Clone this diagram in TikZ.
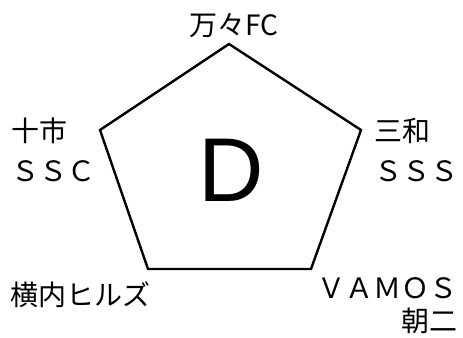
\documentclass[tikz,border=0pt]{standalone}
\usepackage{fontspec}
\setmainfont{Liberation Sans}
\newfontfamily\jpfont{Noto Sans CJK JP}
\usetikzlibrary{positioning}

\begin{document}
\begin{tikzpicture}[
  x=0.75pt,
  y=-0.75pt,
  team/.style={
    font=\jpfont\fontsize{21}{30}\selectfont,
    inner sep=0pt,
    align=left
  },
  side/.style={
    draw=black,
    line width=1.8pt,
    line join=miter
  },
  group/.style={
    font=\fontsize{68}{68}\selectfont,
    inner sep=0pt
  }
]
  \useasboundingbox (0,0) rectangle (463,338);

  % Corners of the pentagon.
  \coordinate (top) at (229,44);
  \coordinate (right) at (361,130);
  \coordinate (lowright) at (311,269);
  \coordinate (lowleft) at (148,269);
  \coordinate (left) at (100,130);

  \draw[side] (top) -- (right) -- (lowright) -- (lowleft) -- (left) -- cycle;

  % Group letter in the middle.
  \node[group] (groupname) at (231,170) {D};

  % One team at each corner.
  \node[team,anchor=center] (manman) at (234,26) {万々FC};
  \node[team,anchor=west] (tochi) at (11,150) {十市\\ＳＳＣ};
  \node[team,anchor=west] (miwa) at (374,150) {三和\\ＳＳＳ};
  \node[team,anchor=west] (yokouchi) at (10,295) {横内ヒルズ};
  \node[team,align=right,anchor=east,
    font=\jpfont\fontsize{21}{25}\selectfont] (vamos) at (458,306) {ＶＡＭＯＳ\\朝二};
\end{tikzpicture}
\end{document}
